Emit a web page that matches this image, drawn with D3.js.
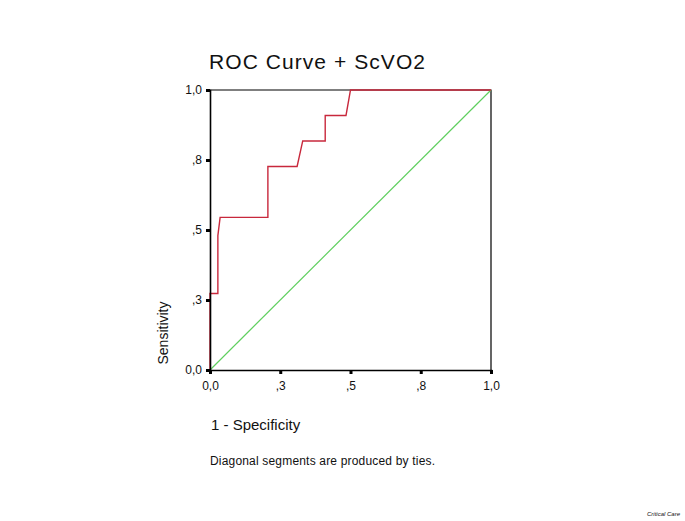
<!DOCTYPE html>
<html>
<head>
<meta charset="utf-8">
<script src="https://cdn.jsdelivr.net/npm/d3@7"></script>
<style>
  body { margin: 0; background: #fff; }
  text { font-family: "Liberation Sans", Arial, sans-serif; fill: #111; }
</style>
</head>
<body>
<div id="chart"></div>
<script>
// ROC curve points (1 - specificity, sensitivity)
var fpr = [0, 0, 0.028, 0.028, 0.036, 0.206, 0.206, 0.31, 0.33, 0.41, 0.41, 0.484, 0.50, 1.0];
var tpr = [0, 0.273, 0.273, 0.48, 0.545, 0.545, 0.727, 0.727, 0.818, 0.818, 0.909, 0.909, 1.0, 1.0];

// reference line
var refX = [0, 1];
var refY = [0, 1];

var tickValues = [0, 0.25, 0.5, 0.75, 1];
var tickLabels = ["0,0", ",3", ",5", ",8", "1,0"];

var svgWidth = 685;
var svgHeight = 521;

var margin = { top: 90, left: 210 };
var chartWidth = 281;
var chartHeight = 280;

var svg = d3.select("#chart")
  .append("svg")
  .attr("width", svgWidth)
  .attr("height", svgHeight);

var chartGroup = svg.append("g")
  .attr("transform", `translate(${margin.left}, ${margin.top})`);

var xScale = d3.scaleLinear().domain([0, 1]).range([0, chartWidth]);
var yScale = d3.scaleLinear().domain([0, 1]).range([chartHeight, 0]);

// frame (top and right)
chartGroup.append("path")
  .attr("d", `M0,0H${chartWidth}V${chartHeight}`)
  .attr("fill", "none")
  .attr("stroke", "#000")
  .attr("stroke-width", 1.2);

// diagonal reference line
var line = d3.line()
  .x(d => xScale(d[0]))
  .y(d => yScale(d[1]));

chartGroup.append("path")
  .datum(refX.map((x, i) => [x, refY[i]]))
  .attr("d", line)
  .attr("fill", "none")
  .attr("stroke", "#5fcf5f")
  .attr("stroke-width", 1.2);

// ROC curve
chartGroup.append("path")
  .datum(fpr.map((x, i) => [x, tpr[i]]))
  .attr("d", line)
  .attr("fill", "none")
  .attr("stroke", "#c8283c")
  .attr("stroke-width", 1.4);

// axes
var bottomAxis = d3.axisBottom(xScale)
  .tickValues(tickValues)
  .tickFormat((d, i) => tickLabels[i])
  .tickSize(4)
  .tickPadding(7);

var leftAxis = d3.axisLeft(yScale)
  .tickValues(tickValues)
  .tickFormat((d, i) => tickLabels[i])
  .tickSize(4)
  .tickPadding(4);

var xAxis = chartGroup.append("g")
  .attr("transform", `translate(0, ${chartHeight})`)
  .call(bottomAxis);

var yAxis = chartGroup.append("g")
  .call(leftAxis);

[xAxis, yAxis].forEach(function(ax) {
  ax.select(".domain").attr("stroke", "#000").attr("stroke-width", 1.6);
  ax.selectAll(".tick line").attr("stroke", "#000").attr("stroke-width", 3);
  ax.selectAll(".tick text")
    .style("font-size", "12px")
    .style("font-family", "Liberation Sans, Arial, sans-serif")
    .attr("fill", "#333");
});

// title
svg.append("text")
  .attr("x", 209)
  .attr("y", 69)
  .attr("textLength", 216)
  .style("font-size", "21px")
  .text("ROC Curve + ScVO2");

// y label
svg.append("text")
  .attr("transform", "rotate(-90)")
  .attr("x", -333)
  .attr("y", 168)
  .attr("text-anchor", "middle")
  .style("font-size", "14px")
  .text("Sensitivity");

// x label
svg.append("text")
  .attr("x", 211)
  .attr("y", 430)
  .style("font-size", "15px")
  .text("1 - Specificity");

// note
svg.append("text")
  .attr("x", 210)
  .attr("y", 465)
  .attr("textLength", 225)
  .style("font-size", "12px")
  .text("Diagonal segments are produced by ties.");

// source
svg.append("text")
  .attr("x", 680)
  .attr("y", 516)
  .attr("text-anchor", "end")
  .style("font-size", "6px")
  .style("font-style", "italic")
  .text("Critical Care");
</script>
</body>
</html>
